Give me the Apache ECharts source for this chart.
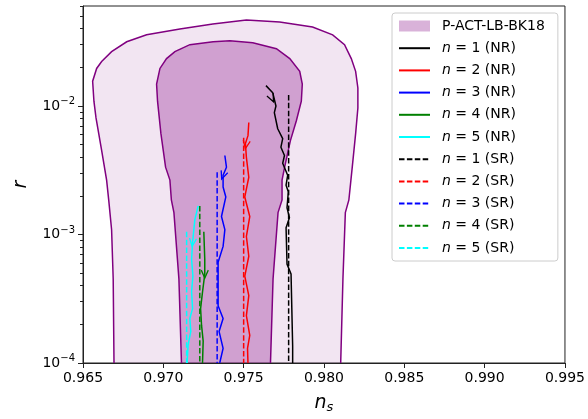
<!DOCTYPE html>
<html>
<head>
<meta charset="utf-8">
<script src="https://cdn.jsdelivr.net/npm/echarts@6/dist/echarts.min.js"></script>
<style>
html, body { margin: 0; padding: 0; background: #fff; }
#chart { width: 588px; height: 419px; }
</style>
</head>
<body>
<div id="chart"></div>
<script>
// P-ACT-LB-BK18 contours, ns / r
var outerNs = [0.96693, 0.96688, 0.96678, 0.96660, 0.96647, 0.96616, 0.96581, 0.96568, 0.96560, 0.96585, 0.96616,
  0.96678, 0.96772, 0.96896, 0.97103, 0.97308, 0.97517, 0.97724, 0.97929, 0.98054, 0.98128, 0.98170, 0.98197,
  0.98211, 0.98211, 0.98197, 0.98176, 0.98155, 0.98133, 0.98118, 0.98104];
var outerR = [1.0e-4, 4.51e-4, 1.09e-3, 1.86e-3, 2.65e-3, 4.51e-3, 8.08e-3, 1.09e-2, 1.56e-2, 1.96e-2, 2.22e-2,
  2.65e-2, 3.16e-2, 3.58e-2, 3.98e-2, 4.35e-2, 4.67e-2, 4.51e-2, 4.12e-2, 3.58e-2, 3.00e-2, 2.34e-2, 1.86e-2,
  1.38e-2, 9.65e-3, 6.09e-3, 3.34e-3, 1.86e-3, 1.48e-3, 4.51e-4, 1.0e-4];
var innerNs = [0.97113, 0.97097, 0.97066, 0.97050, 0.97041, 0.97014, 0.96985, 0.96964, 0.96958, 0.96979, 0.97020,
  0.97072, 0.97165, 0.97310, 0.97414, 0.97557, 0.97704, 0.97787, 0.97849, 0.97865, 0.97859, 0.97828, 0.97791,
  0.97755, 0.97739, 0.97739, 0.97714, 0.97683, 0.97667];
var innerR = [1.0e-4, 4.51e-4, 1.48e-3, 1.86e-3, 2.65e-3, 3.34e-3, 6.09e-3, 1.09e-2, 1.48e-2, 1.96e-2, 2.34e-2,
  2.65e-2, 3.00e-2, 3.16e-2, 3.22e-2, 3.11e-2, 2.79e-2, 2.34e-2, 1.86e-2, 1.48e-2, 1.09e-2, 7.67e-3, 5.38e-3,
  3.34e-3, 2.65e-3, 1.86e-3, 1.48e-3, 4.51e-4, 1.0e-4];

// NR trajectories [ns, r]
var nr1 = [[0.97639, 1.44e-2], [0.97681, 1.27e-2], [0.97701, 1.0e-2], [0.97691, 8.88e-3], [0.97712, 6.65e-3],
  [0.97743, 5.58e-3], [0.97732, 4.78e-3], [0.97754, 4.12e-3], [0.97743, 3.58e-3], [0.97774, 2.89e-3],
  [0.97764, 2.42e-3], [0.97778, 2.15e-3], [0.97770, 1.61e-3], [0.97785, 1.35e-3], [0.97764, 1.13e-3],
  [0.97770, 5.88e-4], [0.97795, 4.92e-4], [0.97805, 1.35e-4], [0.97805, 1.0e-4]];
var nr2 = [[0.97532, 7.44e-3], [0.97527, 5.88e-3], [0.97511, 5.10e-3], [0.97517, 3.98e-3], [0.97532, 2.79e-3],
  [0.97507, 1.96e-3], [0.97538, 1.38e-3], [0.97517, 9.65e-4], [0.97532, 6.77e-4], [0.97507, 4.75e-4],
  [0.97532, 3.34e-4], [0.97517, 2.34e-4], [0.97538, 1.64e-4], [0.97524, 1.30e-4], [0.97527, 1.0e-4]];
var nr3 = [[0.97383, 4.12e-3], [0.97393, 3.34e-3], [0.97372, 2.89e-3], [0.97372, 2.34e-3], [0.97389, 1.96e-3],
  [0.97362, 1.38e-3], [0.97383, 1.09e-3], [0.97372, 8.08e-4], [0.97341, 6.09e-4], [0.97341, 2.79e-4],
  [0.97372, 2.22e-4], [0.97347, 1.76e-4], [0.97372, 1.30e-4], [0.97351, 1.0e-4]];
var nr4 = [[0.97252, 1.05e-3], [0.97258, 6.42e-4], [0.97258, 4.92e-4], [0.97244, 3.58e-4], [0.97232, 2.65e-4],
  [0.97238, 1.96e-4], [0.97248, 1.48e-4], [0.97244, 1.0e-4]];
var nr5 = [[0.97217, 1.67e-3], [0.97196, 1.30e-3], [0.97182, 8.68e-4], [0.97176, 6.42e-4], [0.97184, 4.75e-4],
  [0.97176, 3.58e-4], [0.97182, 2.65e-4], [0.97165, 2.22e-4], [0.97171, 1.76e-4], [0.97154, 1.38e-4],
  [0.97148, 1.0e-4]];

// SR trajectories [ns, r]
var sr1 = [[0.97780, 1.22e-2], [0.97780, 1.0e-4]];
var sr2 = [[0.97500, 5.67e-3], [0.97500, 1.0e-4]];
var sr3 = [[0.97335, 3.05e-3], [0.97335, 1.0e-4]];
var sr4 = [[0.97227, 1.67e-3], [0.97227, 1.0e-4]];
var sr5 = [[0.97145, 1.05e-3], [0.97145, 1.0e-4]];

// arrow heads on the NR curves
var arrowPts = [[0.97675, 1.15e-2], [0.97515, 5.0e-3], [0.97372, 2.89e-3], [0.97258, 4.92e-4], [0.97182, 8.68e-4]];

var majorR = [1e-4, 1e-3, 1e-2];
var minorR = [2e-4, 3e-4, 4e-4, 5e-4, 6e-4, 7e-4, 8e-4, 9e-4, 2e-3, 3e-3, 4e-3, 5e-3, 6e-3, 7e-3, 8e-3, 9e-3,
  2e-2, 3e-2, 4e-2, 5e-2, 6e-2];

var contourName = 'P-ACT-LB-BK18';
var nrNames = ['n = 1 (NR)', 'n = 2 (NR)', 'n = 3 (NR)', 'n = 4 (NR)', 'n = 5 (NR)'];
var srNames = ['n = 1 (SR)', 'n = 2 (SR)', 'n = 3 (SR)', 'n = 4 (SR)', 'n = 5 (SR)'];

var colors = ['#000000', '#ff0000', '#0000ff', '#008000', '#00ffff'];
var arrowRot = [25, -10, -20, 0, -6];
var font = 'DejaVu Sans';

var chart = echarts.init(document.getElementById('chart'));

function contourItem(params, api) {
  var ns = params.dataIndex === 0 ? outerNs : innerNs;
  var rr = params.dataIndex === 0 ? outerR : innerR;
  var pts = [];
  for (var i = 0; i < ns.length; i++) {
    pts.push(api.coord([ns[i], rr[i]]));
  }
  return {
    type: 'group',
    children: [
      { type: 'polygon', shape: { points: pts },
        style: { fill: params.dataIndex === 0 ? 'rgba(128,0,128,0.1)' : 'rgba(128,0,128,0.3)', stroke: 'none' } },
      { type: 'polyline', shape: { points: pts },
        style: { fill: 'none', stroke: '#800080', lineWidth: 1.5 } }
    ]
  };
}

var series = [{
  name: contourName,
  type: 'custom',
  renderItem: contourItem,
  itemStyle: { color: 'rgba(128,0,128,0.3)' },
  data: [[outerNs[0], outerR[0]], [innerNs[0], innerR[0]]],
  silent: true
}];

var nrData = [nr1, nr2, nr3, nr4, nr5];
var srData = [sr1, sr2, sr3, sr4, sr5];

for (var k = 0; k < 5; k++) {
  series.push({
    name: nrNames[k],
    type: 'line',
    data: nrData[k],
    symbol: 'none',
    lineStyle: { color: colors[k], width: 1.5 },
    itemStyle: { color: colors[k] },
    markPoint: {
      symbol: 'path://M0,0L5,8L10,0',
      symbolSize: [7, 8],
      symbolRotate: arrowRot[k],
      silent: true,
      label: { show: false },
      itemStyle: { color: 'rgba(0,0,0,0)', borderColor: colors[k], borderWidth: 1.4 },
      data: [{ coord: arrowPts[k] }]
    }
  });
}
for (var k = 0; k < 5; k++) {
  series.push({
    name: srNames[k],
    type: 'line',
    data: srData[k],
    symbol: 'none',
    lineStyle: { color: colors[k], width: 1.5, type: [5.5, 2.4] },
    itemStyle: { color: colors[k] }
  });
}

// legend: rect patch for the contour, plain lines (no markers) for the rest
var legendData = [{ name: contourName, icon: 'rect', itemStyle: { color: 'rgba(128,0,128,0.3)', borderWidth: 0 } }];
nrNames.forEach(function (n) { legendData.push(n); });
srNames.forEach(function (n) { legendData.push(n); });

chart.setOption({
  animation: false,
  textStyle: { fontFamily: font },
  grid: { left: 83, right: 22, top: 6, bottom: 54, show: true, borderColor: '#222', borderWidth: 1 },
  legend: {
    orient: 'vertical',
    left: 392,
    top: 13,
    padding: [6, 13, 6, 6],
    itemWidth: 31,
    itemHeight: 11,
    itemGap: 8.2,
    backgroundColor: 'rgba(255,255,255,0.8)',
    borderColor: '#cccccc',
    borderWidth: 1,
    borderRadius: 3,
    itemStyle: { color: 'rgba(0,0,0,0)', borderColor: 'rgba(0,0,0,0)', borderWidth: 0 },
    textStyle: {
      fontFamily: font, fontSize: 14, color: '#000', lineHeight: 14, padding: [0, 0, 0, 7],
      rich: {
        i: { fontFamily: font, fontSize: 14, fontStyle: 'italic', color: '#000', lineHeight: 14 }
      }
    },
    formatter: function (name) { return name.replace(/^n/, '{i|n}'); },
    data: legendData
  },
  xAxis: {
    type: 'value',
    min: 0.965,
    max: 0.995,
    interval: 0.005,
    z: 10,
    name: '{i|n}{s|s}',
    nameLocation: 'middle',
    nameGap: 30,
    nameTextStyle: {
      rich: {
        i: { fontFamily: font, fontSize: 19, fontStyle: 'italic', color: '#000' },
        s: { fontFamily: font, fontSize: 13, fontStyle: 'italic', color: '#000', padding: [8, 0, 0, 0] }
      }
    },
    axisLine: { lineStyle: { color: '#222', width: 1 } },
    axisTick: { length: 5, lineStyle: { color: '#222' } },
    axisLabel: {
      margin: 8, fontSize: 14, color: '#000', fontFamily: font,
      formatter: function (v) { return v.toFixed(3); }
    },
    splitLine: { show: false }
  },
  yAxis: [{
    type: 'log',
    logBase: 10,
    min: 1e-4,
    max: 0.06,
    z: 10,
    name: '{i|r}',
    nameLocation: 'middle',
    nameGap: 52,
    nameTextStyle: {
      rich: { i: { fontFamily: font, fontSize: 19, fontStyle: 'italic', color: '#000' } }
    },
    axisLine: { show: true, lineStyle: { color: '#222', width: 1 } },
    axisTick: { show: true, length: 5, lineStyle: { color: '#222' }, customValues: majorR },
    axisLabel: {
      margin: 8, color: '#000', customValues: majorR,
      formatter: function (v) {
        var e = Math.round(Math.log(v) / Math.LN10);
        return '{b|10}{s|\u2212' + (-e) + '}';
      },
      rich: {
        b: { fontFamily: font, fontSize: 14, color: '#000' },
        s: { fontFamily: font, fontSize: 10, color: '#000', padding: [0, 0, 9, 0] }
      }
    },
    splitLine: { show: false }
  }, {
    type: 'log',
    logBase: 10,
    min: 1e-4,
    max: 0.06,
    position: 'left',
    z: 10,
    axisLine: { show: false },
    axisTick: { show: true, length: 3, lineStyle: { color: '#222' }, customValues: minorR },
    axisLabel: { show: false },
    splitLine: { show: false }
  }],
  series: series
});
</script>
</body>
</html>
